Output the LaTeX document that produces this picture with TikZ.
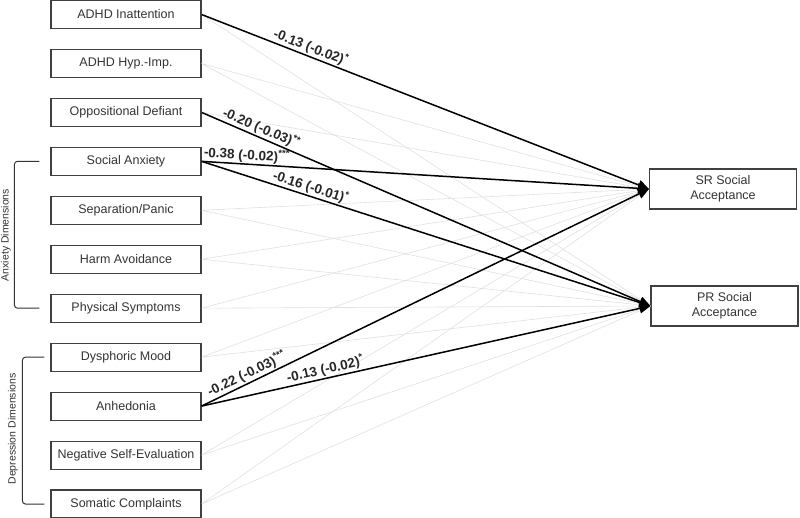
\documentclass[tikz,border=0pt]{standalone}
\usepackage{fontspec}
\setmainfont{Liberation Sans}
\usetikzlibrary{arrows.meta,positioning}

\begin{document}
\begin{tikzpicture}[x=1pt,y=-1pt,node distance=19.85pt,
  var/.style={draw=black!75,line width=1.1pt,minimum width=150pt,
    minimum height=28pt,inner sep=0pt,text=black!80,
    font=\fontsize{12.5}{14.5}\selectfont},
  outcome/.style={var,minimum width=147pt,minimum height=40pt,align=center},
  weak/.style={black!12,line width=0.6pt},
  sig/.style={black,line width=1.5pt,-{Triangle[length=11pt,width=10pt]}},
  coef/.style={font=\bfseries\fontsize{13.5}{14}\selectfont,sloped,above,
    inner sep=1pt,text=black!85},
  brace/.style={black!80,line width=1pt,rounded corners=3pt},
  group/.style={rotate=90,text=black!80,font=\fontsize{10.5}{12}\selectfont}]
  \useasboundingbox (0,0) rectangle (800,518);

  % predictors
  \node[var] (ina) at (126,14.5) {ADHD Inattention};
  \node[var,below=of ina] (hyp) {ADHD Hyp.-Imp.};
  \node[var,below=of hyp] (odd) {Oppositional Defiant};
  \node[var,below=of odd] (soc) {Social Anxiety};
  \node[var,below=of soc] (sep) {Separation/Panic};
  \node[var,below=of sep] (harm) {Harm Avoidance};
  \node[var,below=of harm] (phys) {Physical Symptoms};
  \node[var,below=of phys] (dys) {Dysphoric Mood};
  \node[var,below=of dys] (anh) {Anhedonia};
  \node[var,below=of anh] (nse) {Negative Self-Evaluation};
  \node[var,below=of nse] (som) {Somatic Complaints};

  % outcomes
  \node[outcome] (sr) at (723,189) {SR Social\\Acceptance};
  \node[outcome] (pr) at (724.5,306) {PR Social\\Acceptance};

  % all paths
  \foreach \p in {ina,hyp,odd,soc,sep,harm,phys,dys,anh,nse,som}
    \draw[weak] (\p.east) -- (sr.west) (\p.east) -- (pr.west);

  % significant paths
  \draw[sig] (ina.east) -- node[coef,pos=0.237] {-0.13 (-0.02)\textsuperscript{*}} (sr.west);
  \draw[sig] (odd.east) -- node[coef,pos=0.125] {-0.20 (-0.03)\textsuperscript{**}} (pr.west);
  \draw[sig] (soc.east) -- node[coef,pos=0.1] {-0.38 (-0.02)\textsuperscript{***}} (sr.west);
  \draw[sig] (soc.east) -- node[coef,pos=0.237] {-0.16 (-0.01)\textsuperscript{*}} (pr.west);
  \draw[sig] (anh.east) -- node[coef,pos=0.11] {-0.22 (-0.03)\textsuperscript{***}} (sr.west);
  \draw[sig] (anh.east) -- node[coef,pos=0.28] {-0.13 (-0.02)\textsuperscript{*}} (pr.west);

  % dimension brackets
  \draw[brace] ([xshift=-11pt]soc.west) -- ++(-25,0) |- ([xshift=-11pt]phys.west);
  \draw[brace] ([xshift=-6pt]dys.west) -- ++(-22,0) |- ([xshift=-6pt]som.west);
  \node[group] (anx) at (6,235) {Anxiety Dimensions};
  \node[group] (dep) at (13,429) {Depression Dimensions};
\end{tikzpicture}
\end{document}
